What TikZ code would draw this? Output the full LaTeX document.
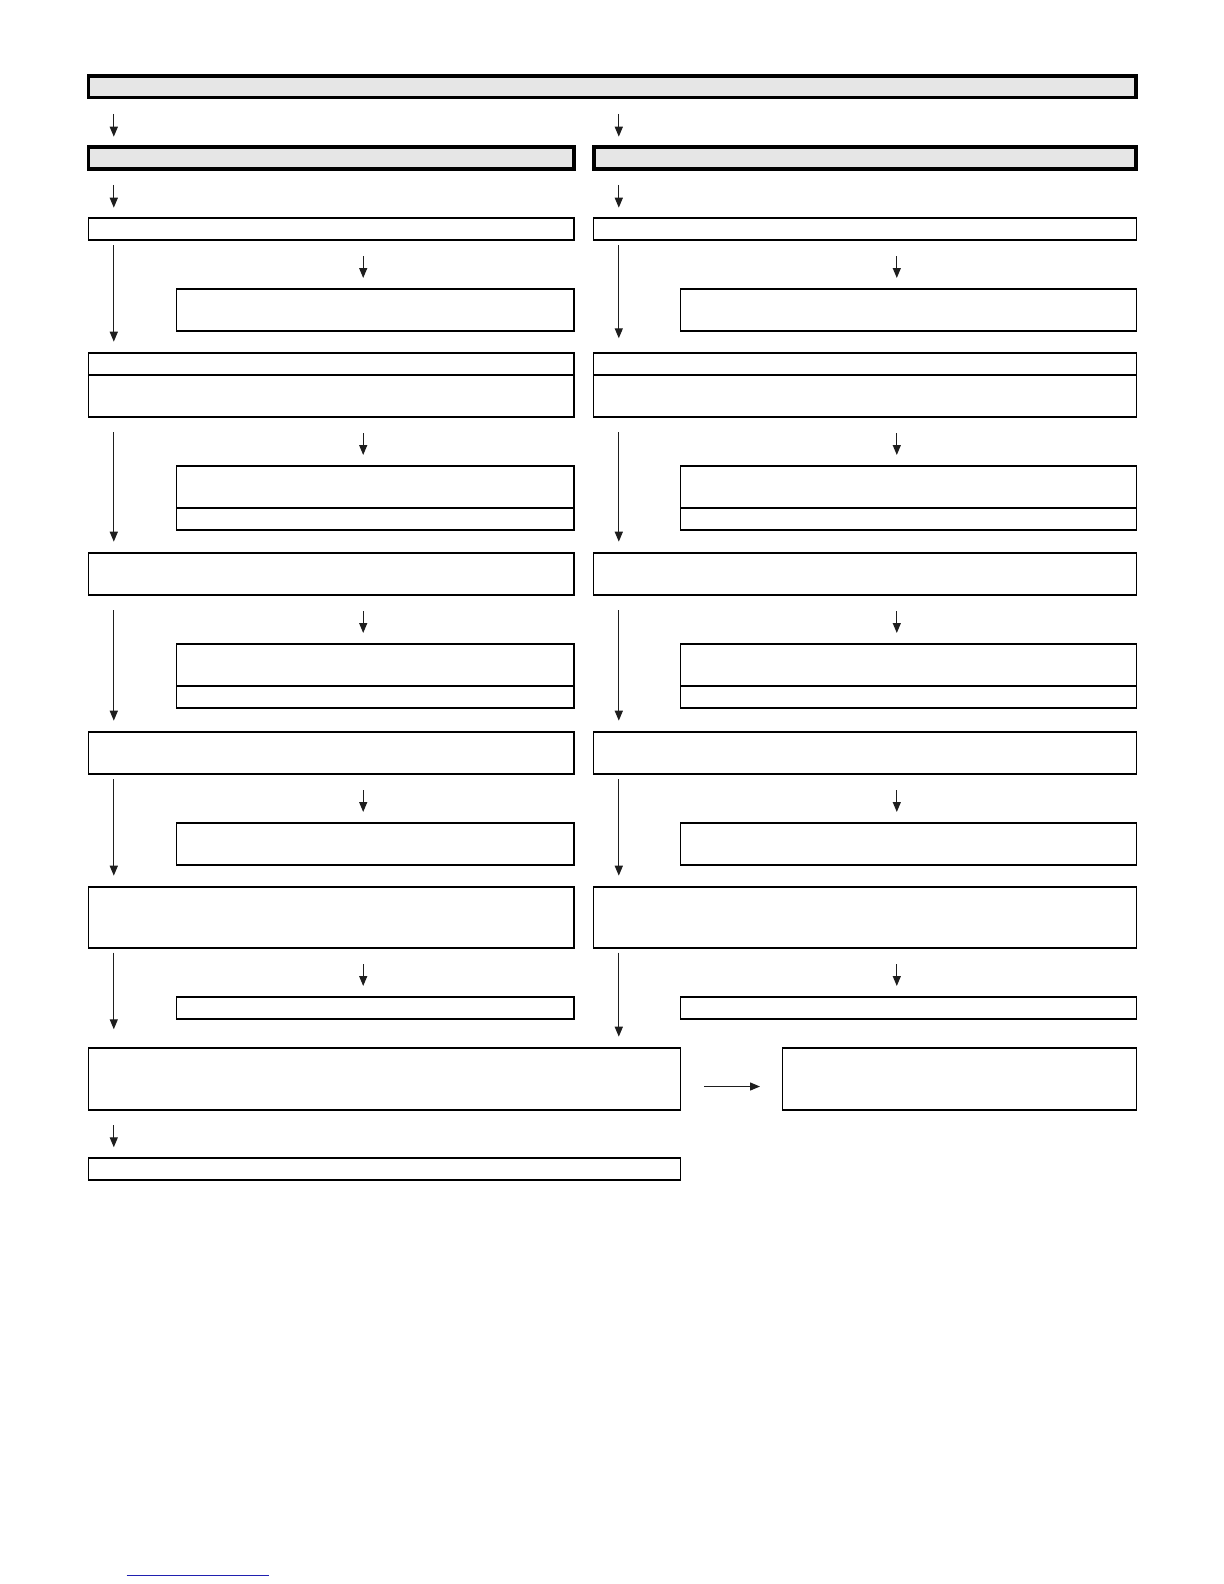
\documentclass[tikz,border=0pt]{standalone}
\usetikzlibrary{arrows.meta,calc,fit}
\definecolor{boxgrey}{HTML}{E6E6E6}
\definecolor{arrowc}{HTML}{1E1E1E}
\definecolor{linkblue}{HTML}{2020B0}
\begin{document}
\begin{tikzpicture}[x=0.5pt,y=-0.5pt,
  box/.style={draw=black, line width=0.65pt, inner sep=0pt, outer sep=0pt},
  headbox/.style={draw=black, line width=1.75pt, fill=boxgrey, inner sep=0pt, outer sep=0pt},
  arr/.style={draw=arrowc, line width=0.65pt, -{Triangle[length=5pt,width=4pt]}},
]
\useasboundingbox (0,0) rectangle (1224,1584);

% header boxes
\node[headbox, fit={(88.7,75.8) (1135.9,97.5)}] (top) {};
\node[headbox, fit={(88.6,146.8) (573.9,168.9)}] (hL) {};
\node[headbox, fit={(593.8,146.8) (1135.9,168.9)}] (hR) {};

% left column
\node[box, fit={(88.8,218) (574,240)}] (r3L) {};
\node[box, fit={(176.8,289) (574,331)}] (s1L) {};
\node[box, fit={(88.8,353) (574,375)}] (r4tL) {};
\node[box, fit={(88.8,375) (574,417)}] (r4bL) {};
\node[box, fit={(176.8,466) (574,508)}] (s2tL) {};
\node[box, fit={(176.8,508) (574,530)}] (s2bL) {};
\node[box, fit={(88.8,553) (574,595)}] (r5L) {};
\node[box, fit={(176.8,644) (574,686)}] (s3tL) {};
\node[box, fit={(176.8,686) (574,708)}] (s3bL) {};
\node[box, fit={(88.8,732) (574,774)}] (r6L) {};
\node[box, fit={(176.8,823) (574,865)}] (s4L) {};
\node[box, fit={(88.8,887) (574,948)}] (r7L) {};
\node[box, fit={(176.8,997) (574,1019)}] (s5L) {};

% right column
\node[box, fit={(593.8,218) (1136.4,240)}] (r3R) {};
\node[box, fit={(680.8,289) (1136.4,331)}] (s1R) {};
\node[box, fit={(593.8,353) (1136.4,375)}] (r4tR) {};
\node[box, fit={(593.8,375) (1136.4,417)}] (r4bR) {};
\node[box, fit={(680.8,466) (1136.4,508)}] (s2tR) {};
\node[box, fit={(680.8,508) (1136.4,530)}] (s2bR) {};
\node[box, fit={(593.8,553) (1136.4,595)}] (r5R) {};
\node[box, fit={(680.8,644) (1136.4,686)}] (s3tR) {};
\node[box, fit={(680.8,686) (1136.4,708)}] (s3bR) {};
\node[box, fit={(593.8,732) (1136.4,774)}] (r6R) {};
\node[box, fit={(680.8,823) (1136.4,865)}] (s4R) {};
\node[box, fit={(593.8,887) (1136.4,948)}] (r7R) {};
\node[box, fit={(680.8,997) (1136.4,1019)}] (s5R) {};

% bottom
\node[box, fit={(88.8,1048) (680.8,1110)}] (r8) {};
\node[box, fit={(782.8,1048) (1136.4,1110)}] (r8side) {};
\node[box, fit={(88.8,1158) (680.8,1180)}] (r9) {};

% header arrows
\draw[arr] ($(top.south west)+(25.1,16.5)$) -- ($(hL.north west)+(25.2,-10.1)$);
\draw[arr] ($(hR.north west)+(25,-32.8)$) coordinate (tR) -- ($(hR.north west)+(25,-10.1)$);
\draw[arr] ($(hL.south west)+(25.2,16)$) -- ($(r3L.north west)+(25,-10.3)$);
\draw[arr] ($(hR.south west)+(25,16)$) -- ($(r3R.north west)+(25,-10.3)$);

% left long arrows
\draw[arr] ($(r3L.south west)+(25,5)$) -- ($(r4tL.north west)+(25,-11.3)$);
\draw[arr] ($(r4bL.south west)+(25,15)$) -- ($(r5L.north west)+(25,-11.3)$);
\draw[arr] ($(r5L.south west)+(25,15)$) -- ($(r6L.north west)+(25,-11.3)$);
\draw[arr] ($(r6L.south west)+(25,5)$) -- ($(r7L.north west)+(25,-11.3)$);
\draw[arr] ($(r7L.south west)+(25,4.7)$) -- ($(r8.north west)+(25,-18.7)$);

% right long arrows
\draw[arr] ($(r3R.south west)+(25,5)$) -- ($(r4tR.north west)+(25,-14.7)$);
\draw[arr] ($(r4bR.south west)+(25,15)$) -- ($(r5R.north west)+(25,-11.3)$);
\draw[arr] ($(r5R.south west)+(25,15)$) -- ($(r6R.north west)+(25,-11.3)$);
\draw[arr] ($(r6R.south west)+(25,5)$) -- ($(r7R.north west)+(25,-11.3)$);
\draw[arr] ($(r7R.south west)+(25,4.7)$) -- ($(r8.north west)+(530,-11.3)$);

% short arrows into side boxes
\foreach \s in {s1L,s2tL,s3tL,s4L,s5L}{
  \draw[arr] ($(\s.north west)+(186.4,-33)$) -- ($(\s.north west)+(186.4,-11)$);
}
\foreach \s in {s1R,s2tR,s3tR,s4R,s5R}{
  \draw[arr] ($(\s.north west)+(216,-33)$) -- ($(\s.north west)+(216,-11)$);
}

% bottom arrows
\draw[arr] ($(r8.east)+(23.2,7.5)$) -- ($(r8side.west)+(-22.8,7.5)$);
\draw[arr] ($(r8.south west)+(25,15)$) -- ($(r9.north west)+(25,-10.7)$);

% blue underline at page foot
\draw[linkblue, line width=0.7pt] (126.7,1575.2) -- (269,1575.2);
\end{tikzpicture}
\end{document}
